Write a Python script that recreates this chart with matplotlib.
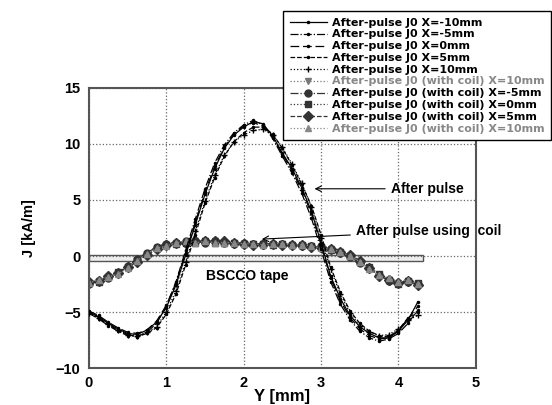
import matplotlib
matplotlib.use("Agg")
import matplotlib.pyplot as plt
from matplotlib.patches import Rectangle

plt.rcParams['font.family'] = ['Liberation Sans', 'DejaVu Sans']

# measurement positions [mm]
y_pos = [0.0, 0.125, 0.25, 0.375, 0.5, 0.625, 0.75, 0.875, 1.0, 1.125,
         1.25, 1.375, 1.5, 1.625, 1.75, 1.875, 2.0, 2.125, 2.25, 2.375,
         2.5, 2.625, 2.75, 2.875, 3.0, 3.125, 3.25, 3.375, 3.5, 3.625,
         3.75, 3.875, 4.0, 4.125, 4.25]

# after pulse (no coil)
j_m10 = [-5.0, -5.4, -6.0, -6.5, -6.9, -7.0, -6.6, -5.9, -4.6, -2.6, 0.1, 2.8,
         5.5, 7.8, 9.6, 10.8, 11.5, 12.0, 11.8, 10.7, 9.2, 7.8, 6.1, 4.0, 1.2,
         -1.8, -3.8, -5.3, -6.3, -6.9, -7.3, -7.3, -6.7, -5.7, -4.1]
j_m5 = [-5.1, -5.6, -6.2, -6.7, -7.1, -7.2, -6.8, -6.0, -4.5, -2.3, 0.5, 3.3,
        6.0, 8.3, 9.9, 11.0, 11.7, 12.1, 11.7, 10.5, 8.9, 7.4, 5.6, 3.4, 0.6,
        -2.3, -4.3, -5.7, -6.7, -7.3, -7.6, -7.4, -6.9, -6.0, -4.8]
j_0 = [-4.9, -5.3, -5.9, -6.4, -6.8, -6.9, -6.6, -5.8, -4.4, -2.4, 0.3, 3.0,
       5.7, 8.0, 9.7, 10.9, 11.6, 11.9, 11.6, 10.6, 9.1, 7.6, 5.9, 3.8, 1.0,
       -2.0, -4.0, -5.5, -6.5, -7.1, -7.4, -7.3, -6.6, -5.6, -4.5]
j_p5 = [-5.0, -5.5, -6.1, -6.6, -7.0, -7.2, -6.9, -6.4, -5.2, -3.4, -0.8, 1.9,
        4.7, 7.0, 8.9, 10.2, 11.0, 11.5, 11.5, 10.9, 9.6, 8.1, 6.4, 4.5, 1.9,
        -1.0, -3.2, -4.9, -6.0, -6.7, -7.1, -7.2, -6.6, -5.5, -5.0]
j_p10 = [-5.1, -5.5, -6.1, -6.6, -7.0, -7.1, -6.8, -6.3, -5.0, -3.1, -0.5, 2.2,
         4.9, 7.2, 9.0, 10.2, 10.8, 11.2, 11.3, 10.8, 9.7, 8.2, 6.5, 4.4, 1.6,
         -1.2, -3.4, -5.1, -6.2, -6.8, -7.1, -7.0, -6.5, -5.7, -5.3]

# after pulse with coil
c_a = [-2.4, -2.2, -1.9, -1.5, -1.0, -0.4, 0.2, 0.7, 1.0, 1.2, 1.2, 1.3, 1.3,
       1.3, 1.2, 1.2, 1.1, 1.1, 1.1, 1.1, 1.1, 1.0, 1.0, 0.9, 0.8, 0.6, 0.4,
       0.0, -0.5, -1.1, -1.7, -2.1, -2.4, -2.2, -2.5]
c_m5 = [-2.5, -2.2, -2.0, -1.5, -0.9, -0.3, 0.3, 0.8, 1.1, 1.2, 1.3, 1.3, 1.2,
        1.3, 1.2, 1.1, 1.2, 1.1, 1.0, 1.1, 1.1, 1.0, 0.9, 0.9, 0.7, 0.6, 0.3,
        -0.1, -0.6, -1.1, -1.7, -2.2, -2.4, -2.3, -2.5]
c_0 = [-2.4, -2.3, -1.9, -1.4, -1.0, -0.4, 0.2, 0.7, 1.0, 1.1, 1.2, 1.2, 1.3,
       1.2, 1.2, 1.2, 1.1, 1.1, 1.1, 1.0, 1.1, 1.0, 1.0, 0.9, 0.8, 0.5, 0.4,
       0.0, -0.5, -1.0, -1.6, -2.1, -2.5, -2.2, -2.4]
c_p5 = [-2.3, -2.2, -1.8, -1.5, -1.0, -0.5, 0.1, 0.6, 1.0, 1.2, 1.2, 1.3, 1.3,
        1.3, 1.3, 1.2, 1.1, 1.0, 1.1, 1.1, 1.0, 1.0, 1.0, 0.8, 0.8, 0.6, 0.4,
        0.1, -0.4, -1.1, -1.8, -2.1, -2.4, -2.2, -2.6]
c_p10 = [-2.4, -2.1, -1.9, -1.6, -1.1, -0.4, 0.2, 0.7, 0.9, 1.2, 1.3, 1.2, 1.3,
         1.2, 1.2, 1.2, 1.1, 1.1, 1.0, 1.1, 1.1, 1.0, 1.0, 0.9, 0.7, 0.6, 0.4,
         0.0, -0.5, -1.2, -1.7, -2.0, -2.3, -2.1, -2.5]

labels = ["After-pulse J0 X=-10mm", "After-pulse J0 X=-5mm",
          "After-pulse J0 X=0mm", "After-pulse J0 X=5mm",
          "After-pulse J0 X=10mm",
          "After-pulse J0 (with coil) X=10mm",
          "After-pulse J0 (with coil) X=-5mm",
          "After-pulse J0 (with coil) X=0mm",
          "After-pulse J0 (with coil) X=5mm",
          "After-pulse J0 (with coil) X=10mm"]

fig = plt.figure(figsize=(5.52, 4.05), dpi=100)
ax = fig.add_axes([0.161, 0.091, 0.701, 0.692])

# BSCCO tape outline
ax.add_patch(Rectangle((0, -0.4), 4.32, 0.5, facecolor='#eeeeee',
                       edgecolor='#555555', lw=1.0, zorder=1))

plain = [(j_m10, '-', '.', 3), (j_m5, '-.', '.', 3), (j_0, (0, (7, 3)), '.', 3),
         (j_p5, '--', '.', 3), (j_p10, ':', '+', 5)]
for ys, ls, mk, ms in plain:
    ax.plot(y_pos, ys, color='black', ls=ls, marker=mk, ms=ms, lw=0.9, zorder=3)

coil = [(c_a, ':', 'v', '#777777'), (c_m5, '-.', 'o', '#333333'),
        (c_0, ':', 's', '#333333'), (c_p5, '--', 'D', '#333333'),
        (c_p10, ':', '^', '#888888')]
for ys, ls, mk, col in coil:
    ax.plot(y_pos, ys, color=col, ls=ls, marker=mk, ms=5, lw=0.9, zorder=2)

ax.set_xlim(0, 5)
ax.set_ylim(-10, 15)
ax.set_xticks([0, 1, 2, 3, 4, 5])
ax.set_yticks([-10, -5, 0, 5, 10, 15])
ax.grid(True, ls=':', color='#666666', lw=0.9)
ax.tick_params(length=0, labelsize=10.5, pad=6)
for lab in ax.get_xticklabels() + ax.get_yticklabels():
    lab.set_fontweight('bold')
for sp in ax.spines.values():
    sp.set_color('#555555')
    sp.set_linewidth(1.5)

ax.set_xlabel('Y [mm]', fontsize=12, fontweight='bold', labelpad=-1)
ax.set_ylabel('J [kA/m]', fontsize=10.5, fontweight='bold', labelpad=14)

bold = dict(fontsize=10, fontweight='bold')
ax.text(2.05, -1.8, 'BSCCO tape', ha='center', va='center', **bold)
ax.annotate('After pulse', xy=(2.88, 6.0), xytext=(3.9, 6.0), va='center',
            arrowprops=dict(arrowstyle='->', color='black', lw=0.8), **bold)
ax.annotate('After pulse using  coil', xy=(2.2, 1.5), xytext=(3.45, 2.2),
            va='center', arrowprops=dict(arrowstyle='->', color='black', lw=0.8),
            **bold)

leg = fig.legend(ax.get_lines()[:], labels, loc='upper left',
                 bbox_to_anchor=(0.513, 0.973), borderaxespad=0,
                 fancybox=False, edgecolor='black', framealpha=1,
                 handlelength=3.3, handletextpad=0.5, labelspacing=0.16,
                 borderpad=0.6, handleheight=0.5,
                 prop={'family': 'DejaVu Sans', 'weight': 'bold', 'size': 8})
leg.get_frame().set_linewidth(1.0)
for i, t in enumerate(leg.get_texts()):
    if i in (5, 9):
        t.set_color('#888888')

fig.savefig('out.png', dpi=100)
